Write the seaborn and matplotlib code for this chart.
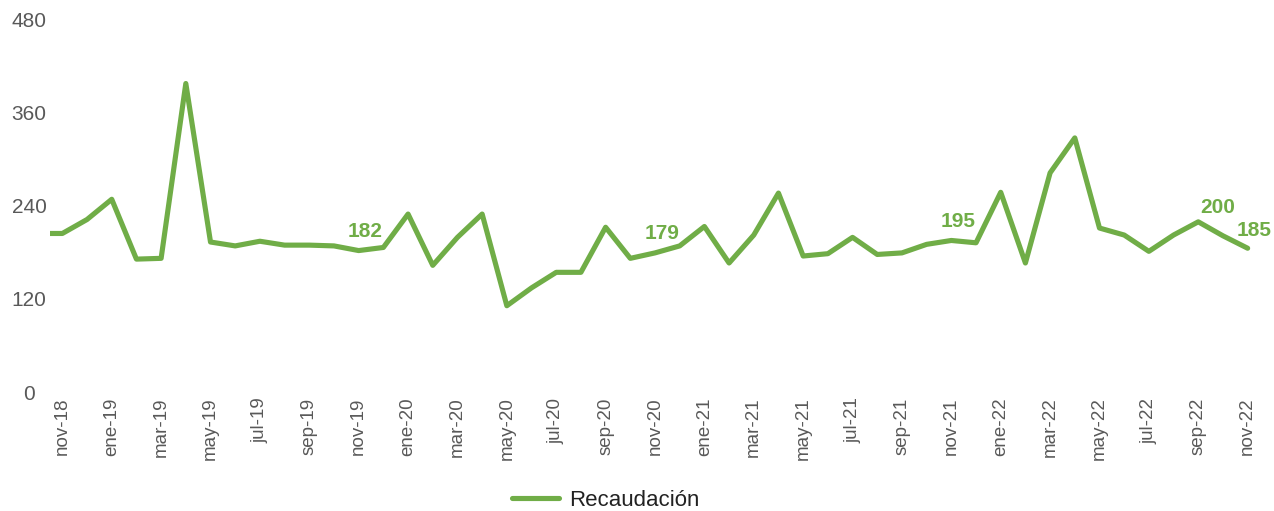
import pandas as pd
import matplotlib
matplotlib.use("Agg")
import matplotlib.pyplot as plt
import seaborn as sns

# monthly collection, oct-18 is only the clipped lead-in segment
months = ["oct-18", "nov-18", "dic-18",
          "ene-19", "feb-19", "mar-19", "abr-19", "may-19", "jun-19",
          "jul-19", "ago-19", "sep-19", "oct-19", "nov-19", "dic-19",
          "ene-20", "feb-20", "mar-20", "abr-20", "may-20", "jun-20",
          "jul-20", "ago-20", "sep-20", "oct-20", "nov-20", "dic-20",
          "ene-21", "feb-21", "mar-21", "abr-21", "may-21", "jun-21",
          "jul-21", "ago-21", "sep-21", "oct-21", "nov-21", "dic-21",
          "ene-22", "feb-22", "mar-22", "abr-22", "may-22", "jun-22",
          "jul-22", "ago-22", "sep-22", "oct-22", "nov-22"]
recaudacion = [204, 204, 222,
               248, 171, 172, 397, 193, 188,
               194, 189, 189, 188, 182, 186,
               229, 163, 199, 229, 111, 134,
               154, 154, 212, 172, 179, 188,
               213, 166, 202, 256, 175, 178,
               199, 177, 179, 190, 195, 192,
               257, 166, 282, 327, 211, 202,
               181, 202, 219, 201, 185]
label_months = ["nov-19", "nov-20", "nov-21", "sep-22", "nov-22"]
label_texts = ["182", "179", "195", "200", "185"]
label_offsets = [(5, 14), (5, 14), (5, 14), (14, 10), (5, 13)]
y_ticks = [0, 120, 240, 360, 480]

GREEN = "#70AD47"

df = pd.DataFrame({"mes": months, "valor": recaudacion})
df["idx"] = range(len(df))

sns.set_style("white")
plt.rcParams["font.family"] = ["Liberation Sans", "DejaVu Sans"]

fig = plt.figure(figsize=(12.74, 5.11), dpi=100)
ax = fig.add_axes([50 / 1274, 1 - 392 / 511, 1210 / 1274, 373 / 511])

sns.lineplot(data=df, x="idx", y="valor", ax=ax, color=GREEN,
             linewidth=3.7, label="Recaudación", legend=False)

for mes, txt, off in zip(label_months, label_texts, label_offsets):
    i = months.index(mes)
    ax.annotate(txt, (i, recaudacion[i]), xytext=off, textcoords="offset points",
                ha="center", va="center", color=GREEN, fontsize=15,
                fontweight="bold")

ax.set_xlim(0.5, len(months) - 0.5)
ax.set_ylim(0, 480)
tick_idx = list(range(1, len(months), 2))
ax.set_xticks(tick_idx)
ax.set_xticklabels([months[i] for i in tick_idx], rotation=90, fontsize=13.5,
                   color="#595959")
ax.set_yticks(y_ticks)
ax.set_yticklabels([str(v) for v in y_ticks], fontsize=15, color="#595959",
                   ha="center")
ax.tick_params(axis="x", length=0, pad=4)
ax.tick_params(axis="y", length=0, pad=15)
ax.set_xlabel("")
ax.set_ylabel("")
sns.despine(ax=ax, left=True, bottom=True)

handles, labels = ax.get_legend_handles_labels()
fig.legend(handles, labels, loc="center", bbox_to_anchor=(606 / 1274, 1 - 500 / 511),
           frameon=False, fontsize=16, handlelength=2.1, handletextpad=0.45,
           labelcolor="#222222")

fig.savefig("out.png", dpi=100)
